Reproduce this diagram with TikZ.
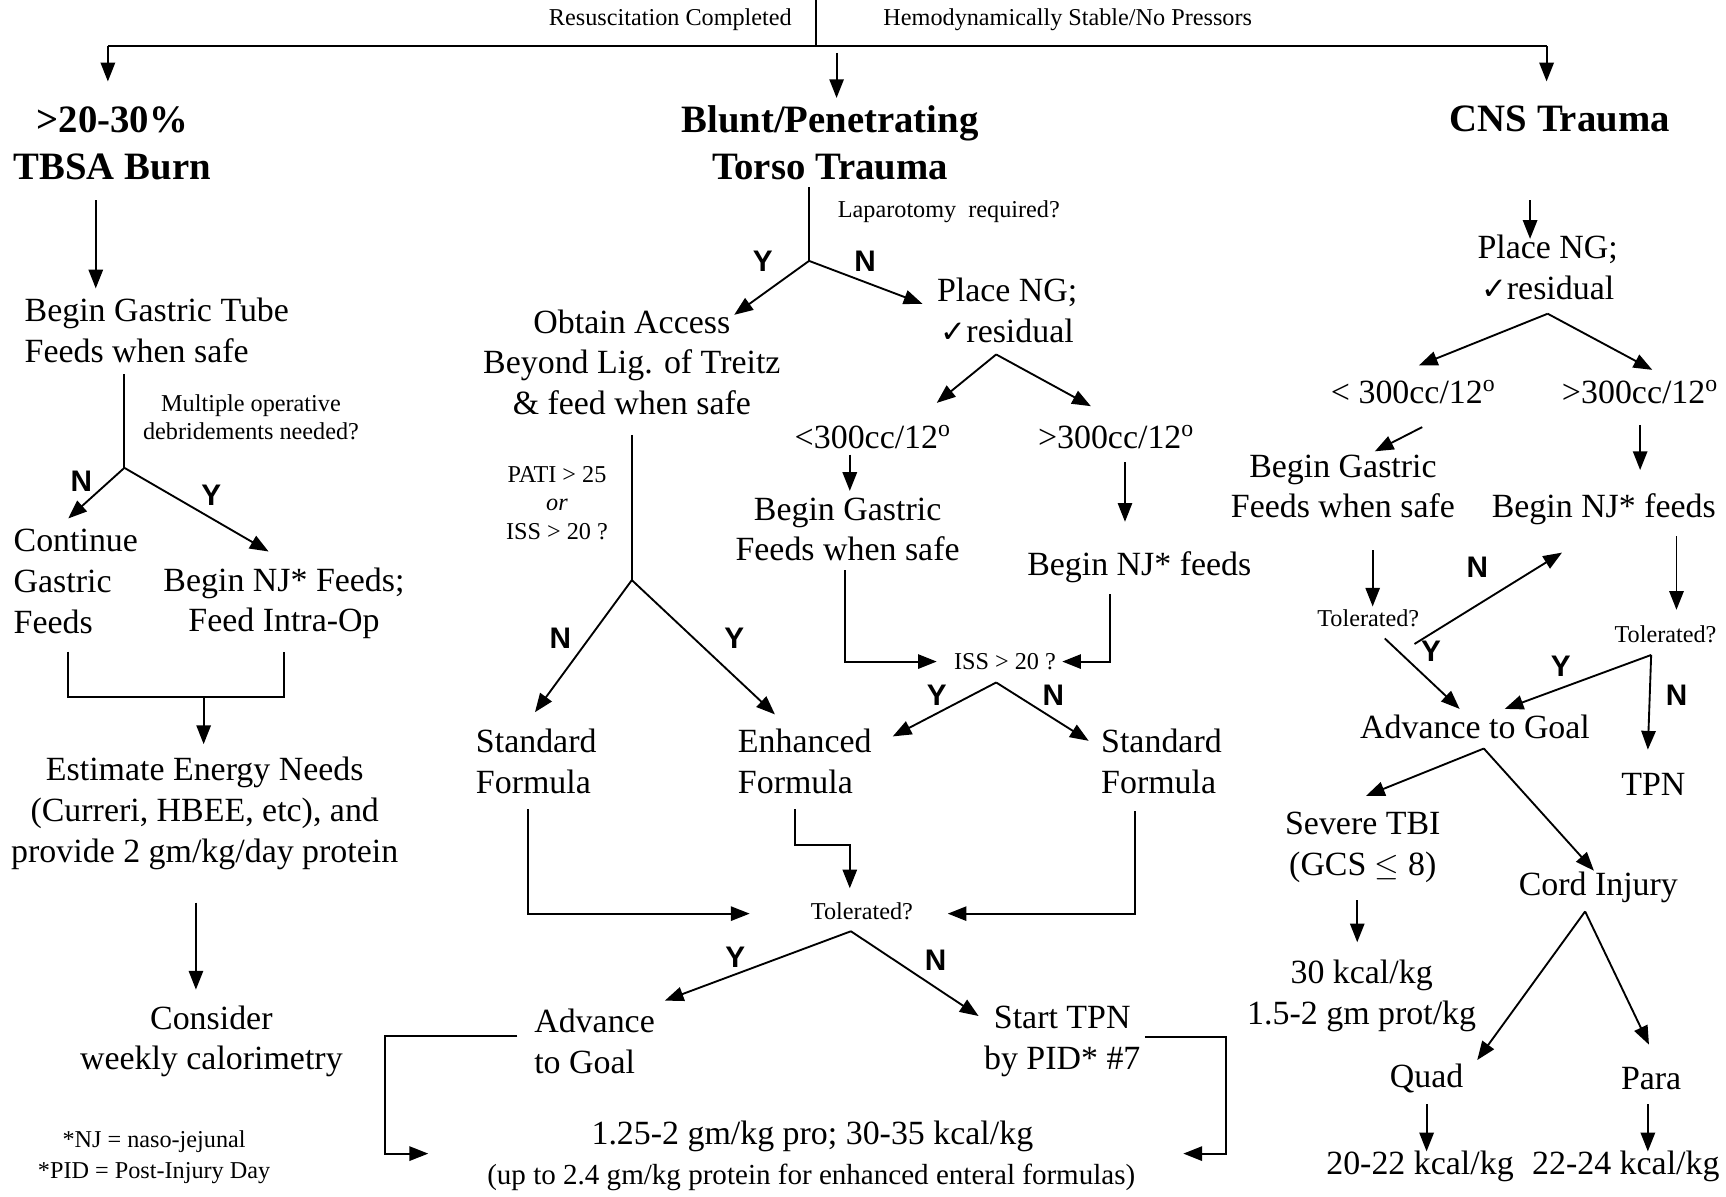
\documentclass[tikz,border=0pt]{standalone}
\usepackage{fontspec}
\setmainfont{Liberation Serif}
\newfontfamily\ynfont{Liberation Sans}
\newfontfamily\symfont{DejaVu Sans}
\usetikzlibrary{arrows.meta}
\newcommand\fmain{\fontsize{15.4}{18.5}\selectfont}
\newcommand\fhead{\fontsize{17.6}{21.5}\selectfont\bfseries}
\newcommand\fsmall{\fontsize{11}{13}\selectfont}
\newcommand\fnote{\fontsize{11}{14}\selectfont}
\newcommand\fyn{\ynfont\bfseries\fontsize{13.5}{14}\selectfont}
\newcommand\ck{{\symfont\fontsize{14}{14}\selectfont ✓}}
\newcommand\dg{\textsuperscript{o}}
\begin{document}
\begin{tikzpicture}[
  x=0.5pt, y=-0.5pt,
  ln/.style={line width=0.85pt},
  arr/.style={line width=0.85pt, -{Triangle[length=8.5pt,width=6.5pt]}},
  mtxt/.style={font=\fmain, align=center, inner sep=0pt},
  mtxtl/.style={font=\fmain, align=left, inner sep=0pt, anchor=west},
  htxt/.style={font=\fhead, align=center, inner sep=0pt},
  stxt/.style={font=\fsmall, align=center, inner sep=0pt},
  yn/.style={font=\fyn, inner sep=0pt}
]
\useasboundingbox[fill=white] (0,0) rectangle (1568,1087);

% ---------- top ----------
\node[stxt] (rc) at (609,18) {Resuscitation Completed};
\node[stxt] (hs) at (970,18) {Hemodynamically Stable/No Pressors};
\coordinate (tA) at (741,0);   \coordinate (tB) at (741,42);
\coordinate (hL) at (98,42);   \coordinate (hR) at (1405,42);
\coordinate (hLe) at (98,74);  \coordinate (hRe) at (1405,74);
\coordinate (mS) at (760,48);  \coordinate (mE) at (760,89);
\draw[ln] (tA) -- (tB);
\draw[ln] (hL) -- (hR);
\draw[arr] (hL) -- (hLe);
\draw[arr] (hR) -- (hRe);
\draw[arr] (mS) -- (mE);

% ---------- burn column ----------
\node[htxt] (burn) at (102,130) {>20-30\%\\TBSA Burn};
\node[mtxtl] (bgt) at (22,300) {Begin Gastric Tube\\Feeds when safe};
\node[stxt] (mod) at (228,379) {Multiple operative\\debridements needed?};
\node[mtxtl] (cont) at (12,528) {Continue\\Gastric\\Feeds};
\node[mtxt] (bnj) at (258,548) {Begin NJ* Feeds;\\Feed Intra-Op};
\node[mtxt] (est) at (186,739) {Estimate Energy Needs\\(Curreri, HBEE, etc), and\\provide 2 gm/kg/day protein};
\node[mtxt] (cons) at (192,946) {Consider\\weekly calorimetry};
\node[font=\fnote, align=center, inner sep=0pt] (fn) at (140,1051) {*NJ = naso-jejunal\\*PID = Post-Injury Day};
\node[yn] (bN) at (74,437) {N};
\node[yn] (bY) at (192,450) {Y};

\coordinate (b1s) at (87,182);  \coordinate (b1e) at (87,262);
\coordinate (bv0) at (113,340); \coordinate (bv) at (113,425);
\coordinate (bNe) at (62,471);  \coordinate (bYe) at (244,501);
\coordinate (bk1) at (62,592);  \coordinate (bk2) at (62,633);
\coordinate (bk3) at (258,633); \coordinate (bk4) at (258,592);
\coordinate (bkm) at (185,633); \coordinate (bkme) at (185,676);
\coordinate (b2s) at (178,820); \coordinate (b2e) at (178,899);
\draw[arr] (b1s) -- (b1e);
\draw[ln] (bv0) -- (bv);
\draw[arr] (bv) -- (bNe);
\draw[arr] (bv) -- (bYe);
\draw[ln] (bk1) -- (bk2) -- (bk3) -- (bk4);
\draw[arr] (bkm) -- (bkme);
\draw[arr] (b2s) -- (b2e);

% ---------- torso column ----------
\node[htxt] (torso) at (754,130) {Blunt/Penetrating\\Torso Trauma};
\node[stxt] (lap) at (862,192) {Laparotomy\ \ required?};
\node[yn] (tY) at (693,237) {Y};
\node[yn] (tN) at (786,237) {N};
\node[mtxt] (obt) at (574,329) {Obtain Access\\Beyond Lig. of Treitz\\\& feed when safe};
\node[mtxt] (png) at (915,282) {Place NG;\\\ck residual};
\node[mtxt] (lt300) at (793,397) {<300cc/12\dg};
\node[mtxt] (gt300) at (1014,397) {>300cc/12\dg};
\node[mtxt] (bgf) at (770,481) {Begin Gastric\\Feeds when safe};
\node[mtxt] (bnjf) at (1035,515) {Begin NJ* feeds};
\node[stxt] (iss) at (913,601) {ISS > 20 ?};
\node[yn] (iY) at (851,632) {Y};
\node[yn] (iN) at (957,632) {N};
\node[mtxtl] (enh) at (670,692) {Enhanced\\Formula};
\node[mtxtl] (std2) at (1000,692) {Standard\\Formula};
\node[stxt] (pati) at (506,457) {PATI > 25\\\textit{or}\\ISS > 20 ?};
\node[yn] (pN) at (509,580) {N};
\node[yn] (pY) at (667,580) {Y};
\node[mtxtl] (std1) at (432,692) {Standard\\Formula};
\node[stxt] (tol) at (783,828) {Tolerated?};
\node[yn] (oY) at (668,870) {Y};
\node[yn] (oN) at (850,872) {N};
\node[mtxtl] (adv) at (485,946) {Advance\\to Goal};
\node[mtxt] (tpn) at (965,946) {Start TPN\\by PID* \#7};
\node[mtxt] (res1) at (738,1032) {1.25-2 gm/kg pro; 30-35 kcal/kg};
\node[font=\fontsize{13.2}{15}\selectfont, inner sep=0pt] (res2) at (737,1070) {(up to 2.4 gm/kg protein for enhanced enteral formulas)};

\coordinate (tv0) at (735,170); \coordinate (tv) at (735,237);
\coordinate (tYe) at (667,286); \coordinate (tNe) at (838,276);
\coordinate (pv) at (905,322);  \coordinate (pLe) at (851,366); \coordinate (pRe) at (991,369);
\coordinate (a3s) at (772,413); \coordinate (a3e) at (772,446);
\coordinate (a4s) at (1022,420); \coordinate (a4e) at (1022,474);
\coordinate (l1a) at (768,518); \coordinate (l1b) at (768,601); \coordinate (l1e) at (851,601);
\coordinate (r1a) at (1008,540); \coordinate (r1b) at (1008,601); \coordinate (r1e) at (965,601);
\coordinate (iv) at (905,620);  \coordinate (iYe) at (811,669); \coordinate (iNe) at (989,673);
\coordinate (pv0) at (574,395); \coordinate (pvv) at (574,527);
\coordinate (pNe) at (486,647); \coordinate (pYe) at (704,649);
\coordinate (s1a) at (480,735); \coordinate (s1b) at (480,830); \coordinate (s1e) at (681,830);
\coordinate (e1a) at (722,735); \coordinate (e1b) at (722,768); \coordinate (e1c) at (772,768); \coordinate (e1e) at (772,807);
\coordinate (s2a) at (1031,737); \coordinate (s2b) at (1031,830); \coordinate (s2e) at (861,830);
\coordinate (ov) at (773,846);  \coordinate (oYe) at (604,909); \coordinate (oNe) at (889,923);
\coordinate (al1) at (470,941); \coordinate (al2) at (350,941); \coordinate (al3) at (350,1048); \coordinate (al4) at (389,1048);
\coordinate (ar1) at (1040,942); \coordinate (ar2) at (1114,942); \coordinate (ar3) at (1114,1048); \coordinate (ar4) at (1075,1048);

\draw[ln] (tv0) -- (tv);
\draw[arr] (tv) -- (tYe);
\draw[arr] (tv) -- (tNe);
\draw[arr] (pv) -- (pLe);
\draw[arr] (pv) -- (pRe);
\draw[arr] (a3s) -- (a3e);
\draw[arr] (a4s) -- (a4e);
\draw[arr] (l1a) -- (l1b) -- (l1e);
\draw[arr] (r1a) -- (r1b) -- (r1e);
\draw[arr] (iv) -- (iYe);
\draw[arr] (iv) -- (iNe);
\draw[ln] (pv0) -- (pvv);
\draw[arr] (pvv) -- (pNe);
\draw[arr] (pvv) -- (pYe);
\draw[arr] (s1a) -- (s1b) -- (s1e);
\draw[arr] (e1a) -- (e1b) -- (e1c) -- (e1e);
\draw[arr] (s2a) -- (s2b) -- (s2e);
\draw[arr] (ov) -- (oYe);
\draw[arr] (ov) -- (oNe);
\draw[arr] (al1) -- (al2) -- (al3) -- (al4);
\draw[arr] (ar1) -- (ar2) -- (ar3) -- (ar4);

% ---------- CNS column ----------
\node[htxt] (cns) at (1417,108) {CNS Trauma};
\node[mtxt] (cpng) at (1406,243) {Place NG;\\\ck residual};
\node[mtxt] (clt) at (1284,356) {< 300cc/12\dg};
\node[mtxt] (cgt) at (1490,356) {>300cc/12\dg};
\node[mtxt] (cbg) at (1220,442) {Begin Gastric\\Feeds when safe};
\node[mtxt] (cnj) at (1457,463) {Begin NJ* feeds};
\node[stxt] (ctol1) at (1243,562) {Tolerated?};
\node[stxt] (ctol2) at (1513,576) {Tolerated?};
\node[yn] (cN1) at (1342,515) {N};
\node[yn] (cY1) at (1300,592) {Y};
\node[yn] (cY2) at (1418,605) {Y};
\node[yn] (cN2) at (1523,632) {N};
\node[mtxt] (cadv) at (1340,660) {Advance to Goal};
\node[mtxt] (ctpn) at (1502,713) {TPN};
\node[mtxt] (ctbi) at (1238,770) {Severe TBI\\(GCS $\leq$ 8)};
\node[mtxt] (ccord) at (1452,806) {Cord Injury};
\node[mtxt] (c30) at (1237,905) {30 kcal/kg\\1.5-2 gm prot/kg};
\node[mtxt] (quad) at (1296,980) {Quad};
\node[mtxt] (para) at (1500,980) {Para};
\node[mtxt] (q20) at (1290,1060) {20-22 kcal/kg};
\node[mtxt] (p22) at (1477,1060) {22-24 kcal/kg};

\coordinate (c1s) at (1390,182); \coordinate (c1e) at (1390,217);
\coordinate (cv) at (1406,285);  \coordinate (cLe) at (1289,332); \coordinate (cRe) at (1501,336);
\coordinate (c2s) at (1292,388); \coordinate (c2e) at (1249,410);
\coordinate (c3s) at (1490,386); \coordinate (c3e) at (1490,427);
\coordinate (c4s) at (1247,500); \coordinate (c4e) at (1247,551);
\coordinate (cN1s) at (1285,585); \coordinate (cN1e) at (1419,502);
\coordinate (c5s) at (1523,487); \coordinate (c5e) at (1523,554);
\coordinate (cY1s) at (1258,580); \coordinate (cY1e) at (1326,644);
\coordinate (cv2) at (1500,595); \coordinate (cY2e) at (1367,644); \coordinate (cN2e) at (1497,681);
\coordinate (cv3) at (1348,680); \coordinate (cTe) at (1241,723); \coordinate (cCe) at (1448,791);
\coordinate (c6s) at (1233,818); \coordinate (c6e) at (1233,856);
\coordinate (cv4) at (1440,828); \coordinate (cQe) at (1342,963); \coordinate (cPe) at (1498,949);
\coordinate (c7s) at (1296,1003); \coordinate (c7e) at (1296,1046);
\coordinate (c8s) at (1497,1003); \coordinate (c8e) at (1497,1046);

\draw[arr] (c1s) -- (c1e);
\draw[arr] (cv) -- (cLe);
\draw[arr] (cv) -- (cRe);
\draw[arr] (c2s) -- (c2e);
\draw[arr] (c3s) -- (c3e);
\draw[arr] (c4s) -- (c4e);
\draw[arr] (cN1s) -- (cN1e);
\draw[arr] (c5s) -- (c5e);
\draw[arr] (cY1s) -- (cY1e);
\draw[arr] (cv2) -- (cY2e);
\draw[arr] (cv2) -- (cN2e);
\draw[arr] (cv3) -- (cTe);
\draw[arr] (cv3) -- (cCe);
\draw[arr] (c6s) -- (c6e);
\draw[arr] (cv4) -- (cQe);
\draw[arr] (cv4) -- (cPe);
\draw[arr] (c7s) -- (c7e);
\draw[arr] (c8s) -- (c8e);
\end{tikzpicture}
\end{document}
